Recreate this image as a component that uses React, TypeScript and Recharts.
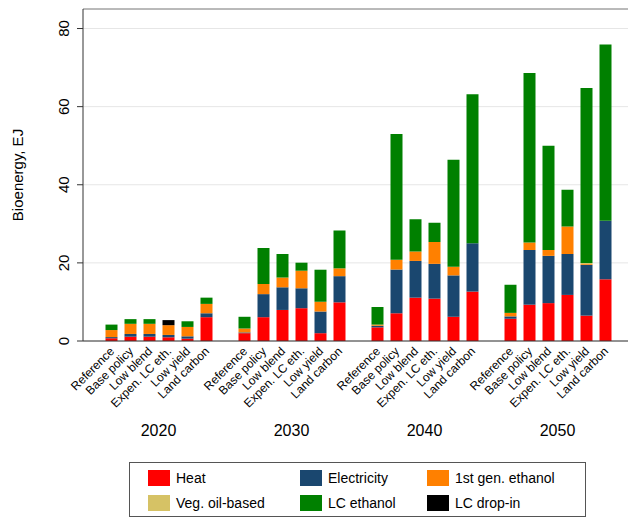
import { Bar, BarChart, CartesianGrid, Legend, ReferenceLine, XAxis, YAxis } from "recharts"

const years = ["2020", "2030", "2040", "2050"]
const scenarios = ["Reference", "Base policy", "Low blend", "Expen. LC eth.", "Low yield", "Land carbon"]

// values per year, scenario order as above (EJ)
const heat = [
  0.7, 1.1, 1.1, 0.95, 0.6, 6.1,
  2.0, 6.1, 7.95, 8.4, 2.0, 9.9,
  3.5, 7.1, 11.1, 10.85, 6.2, 12.65,
  5.7, 9.3, 9.7, 11.8, 6.5, 15.8,
]
const electricity = [
  0.3, 0.7, 0.7, 0.6, 0.6, 1.0,
  0.2, 5.9, 5.8, 5.1, 5.55, 6.7,
  0.4, 11.2, 9.4, 8.9, 10.6, 12.4,
  0.6, 14.0, 12.1, 10.5, 13.0, 15.0,
]
const firstGenEthanol = [
  1.8, 2.6, 2.6, 2.5, 2.4, 2.4,
  1.0, 2.6, 2.5, 4.5, 2.5, 2.0,
  0.3, 2.5, 2.4, 5.6, 2.2, 0,
  0.9, 1.9, 1.5, 7.0, 0.2, 0,
]
const vegOil = [
  0, 0, 0, 0, 0, 0,
  0, 0, 0, 0, 0, 0,
  0, 0, 0, 0, 0, 0,
  0, 0, 0, 0, 0.3, 0,
]
const lcEthanol = [
  1.4, 1.2, 1.2, 0, 1.45, 1.6,
  3.0, 9.2, 6.0, 2.05, 8.2, 9.7,
  4.5, 32.2, 8.3, 4.95, 27.4, 38.1,
  7.2, 43.4, 26.7, 9.4, 44.8, 45.1,
]
const lcDropIn = [
  0, 0, 0, 1.3, 0, 0,
  0, 0, 0, 0, 0, 0,
  0, 0, 0, 0, 0, 0,
  0, 0, 0, 0, 0, 0,
]
const yTicks = [0, 20, 40, 60, 80]

const series = [
  { key: "heat", name: "Heat", color: "#ff0000", values: heat },
  { key: "electricity", name: "Electricity", color: "#1a476f", values: electricity },
  { key: "firstGen", name: "1st gen. ethanol", color: "#ff8000", values: firstGenEthanol },
  { key: "vegOil", name: "Veg. oil-based", color: "#d6c265", values: vegOil },
  { key: "lcEthanol", name: "LC ethanol", color: "#008000", values: lcEthanol },
  { key: "lcDropIn", name: "LC drop-in", color: "#000000", values: lcDropIn },
]

type Row = { id: string; year?: string; scenario?: string; pos?: number; [k: string]: any }

// one row per bar, with an empty spacer slot between years
const rows: Row[] = []
years.forEach((year, yi) => {
  if (yi > 0) rows.push({ id: `gap-${yi}` })
  scenarios.forEach((scenario, si) => {
    const i = yi * scenarios.length + si
    const row: Row = { id: `${year}-${scenario}`, year, scenario, pos: si }
    series.forEach((s) => {
      row[s.key] = s.values[i]
    })
    rows.push(row)
  })
})

const font = '"Liberation Sans", Arial, sans-serif'

function XTick(props: any) {
  const { x, y, payload } = props
  const row = rows[payload.index]
  if (!row || !row.scenario) return null
  const half = payload.offset || 9.5
  return (
    <g>
      <text
        transform={`translate(${x + 4},${y + 11}) rotate(-45)`}
        textAnchor="end"
        fontSize={12}
        fontFamily={font}
        fill="#000"
      >
        {row.scenario}
      </text>
      {row.pos === 2 && (
        <text x={x + half} y={y + 95} textAnchor="middle" fontSize={16} fontFamily={font} fill="#000">
          {row.year}
        </text>
      )}
    </g>
  )
}

function YTick(props: any) {
  const { x, y, payload } = props
  return (
    <text
      transform={`translate(${x - 6},${y}) rotate(-90)`}
      textAnchor="middle"
      fontSize={15}
      fontFamily={font}
      fill="#000"
    >
      {payload.value}
    </text>
  )
}

function LegendBox() {
  return (
    <div
      style={{
        boxSizing: "border-box",
        width: 457,
        height: 55,
        border: "1px solid #555",
        background: "#fff",
        display: "grid",
        gridTemplateColumns: "152px 127px auto",
        gridAutoRows: "24.6px",
        padding: "3px 0 0 18px",
        fontFamily: font,
        fontSize: 14,
        color: "#000",
      }}
    >
      {series.map((s) => (
        <div key={s.key} style={{ display: "flex", alignItems: "center" }}>
          <span style={{ width: 22, height: 16, background: s.color, marginRight: 6, display: "inline-block" }} />
          <span>{s.name}</span>
        </div>
      ))}
    </div>
  )
}

export default function App() {
  return (
    <div style={{ position: "absolute", left: 0, top: 0, width: 628, height: 517, background: "#fff" }}>
      <BarChart width={628} height={517} data={rows} margin={{ top: 9, right: 0, bottom: 0, left: 0 }}>
        <CartesianGrid vertical={false} stroke="#e6e6e6" />
        <ReferenceLine y={85} stroke="#808080" />
        <XAxis
          dataKey="id"
          interval={0}
          height={176}
          tickSize={0}
          tickMargin={0}
          tickLine={false}
          stroke="#333"
          padding={{ left: 18.5, right: 13.5 }}
          tick={<XTick />}
        />
        <YAxis
          width={83}
          domain={[0, 85]}
          ticks={yTicks}
          allowDataOverflow
          tickSize={6}
          tickMargin={2}
          stroke="#333"
          tick={<YTick />}
          label={{
            value: "Bioenergy, EJ",
            angle: -90,
            position: "center",
            dx: -23.5,
            fontSize: 15,
            fontFamily: font,
            fill: "#000",
          }}
        />
        <Legend
          layout="vertical"
          verticalAlign="middle"
          align="center"
          content={<LegendBox />}
          wrapperStyle={{ position: "absolute", left: 129, top: 462, width: 457, height: 55 }}
        />
        {series.map((s) => (
          <Bar
            key={s.key}
            dataKey={s.key}
            name={s.name}
            stackId="total"
            fill={s.color}
            barSize={12}
            isAnimationActive={false}
          />
        ))}
      </BarChart>
    </div>
  )
}
